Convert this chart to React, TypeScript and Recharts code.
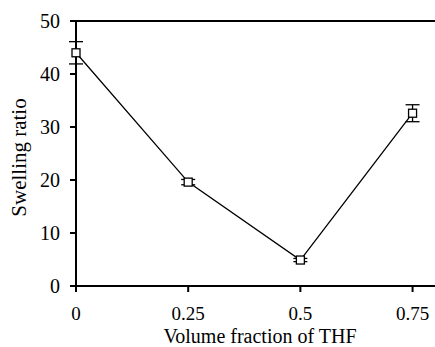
import { ErrorBar, Label, Line, LineChart, ReferenceLine, XAxis, YAxis } from 'recharts'

const thfFraction = [0, 0.25, 0.5, 0.75]
const swellingRatio = [44.0, 19.6, 4.9, 32.6]
const swellingError = [2.1, 0.5, 0.3, 1.6]
const xTicks = [0, 0.25, 0.5, 0.75]
const yTicks = [0, 10, 20, 30, 40, 50]

const data = thfFraction.map((x, i) => ({ x, y: swellingRatio[i], err: swellingError[i] }))

const font = 'Liberation Serif, Times New Roman, serif'

function SquareDot(props: any) {
  const { cx, cy } = props
  if (cx == null || cy == null) return null
  return <rect x={cx - 4} y={cy - 4} width={8} height={8} fill="#fff" stroke="#000" strokeWidth={1.3} />
}

function XTick({ x, y, payload }: any) {
  return (
    <text x={x} y={y} dy="0.68em" textAnchor="middle" fill="#000" fontSize={19} fontFamily={font}>
      {String(payload.value)}
    </text>
  )
}

function YTick({ x, y, payload }: any) {
  return (
    <text x={x} y={y} dy="0.36em" textAnchor="end" fill="#000" fontSize={20} fontFamily={font}>
      {String(payload.value)}
    </text>
  )
}

function YTitle({ viewBox }: any) {
  const { x, y, height } = viewBox
  const cx = x + 10
  const cy = y + height / 2 + 4
  return (
    <text
      x={cx}
      y={cy}
      transform={`rotate(-90, ${cx}, ${cy})`}
      textAnchor="middle"
      fill="#000"
      fontSize={21}
      fontFamily={font}
    >
      Swelling ratio
    </text>
  )
}

export default function App() {
  return (
    <div style={{ position: 'absolute', left: 0, top: 0, width: 435, height: 347, background: '#fff', fontFamily: font }}>
      <LineChart width={435} height={347} data={data} margin={{ top: 21, right: 0, bottom: 0, left: 16 }}>
        <XAxis
          type="number"
          dataKey="x"
          domain={[0, 0.8]}
          ticks={xTicks}
          interval={0}
          tick={<XTick />}
          tickLine={{ stroke: '#000', strokeWidth: 2 }}
          axisLine={{ stroke: '#000', strokeWidth: 2 }}
          tickSize={6}
          tickMargin={15}
          height={61}
        />
        <YAxis
          type="number"
          domain={[0, 50]}
          ticks={yTicks}
          interval={0}
          tick={<YTick />}
          tickLine={{ stroke: '#000', strokeWidth: 2 }}
          axisLine={{ stroke: '#000', strokeWidth: 2 }}
          tickSize={6}
          tickMargin={10}
          width={60}
        >
          <Label content={<YTitle />} />
        </YAxis>
        <ReferenceLine y={50} stroke="#000" strokeWidth={2} />
        <Line
          dataKey="y"
          stroke="#000"
          strokeWidth={1.3}
          dot={<SquareDot />}
          activeDot={false}
          isAnimationActive={false}
        >
          <ErrorBar dataKey="err" width={7} stroke="#000" strokeWidth={1.3} direction="y" />
        </Line>
      </LineChart>
      <div
        style={{
          position: 'absolute',
          left: 130,
          width: 260,
          top: 326,
          textAlign: 'center',
          fontSize: 20,
          lineHeight: '20px',
          color: '#000',
          whiteSpace: 'nowrap',
        }}
      >
        Volume fraction of THF
      </div>
    </div>
  )
}
